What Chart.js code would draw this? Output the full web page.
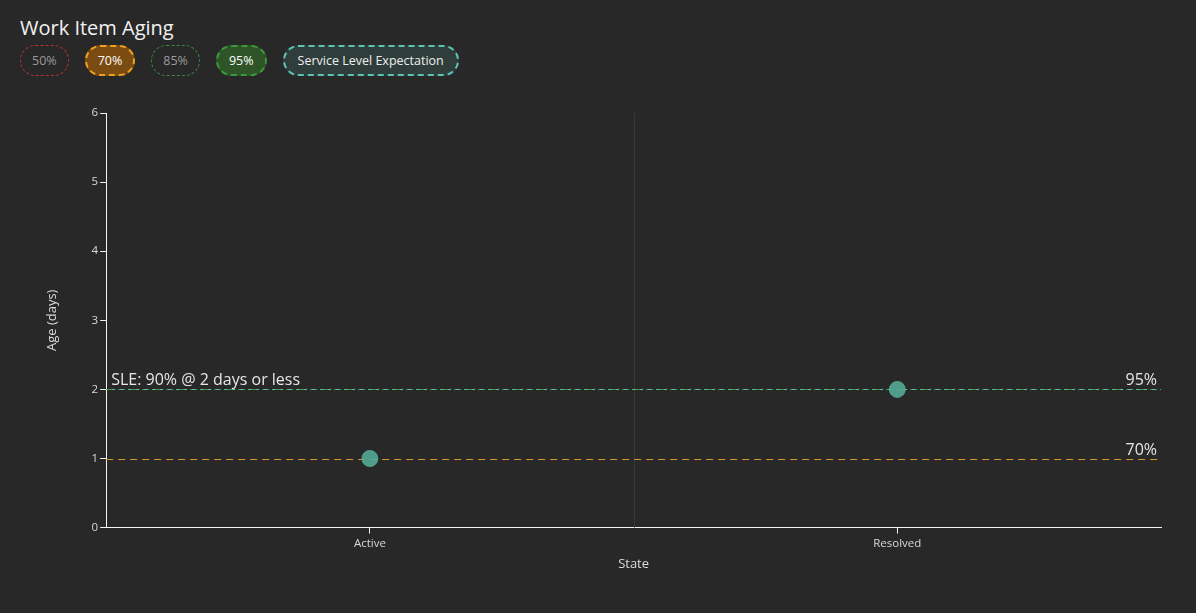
<!DOCTYPE html>
<html>
<head>
<meta charset="utf-8">
<script src="https://cdn.jsdelivr.net/npm/chart.js@4"></script>
<style>
    body { margin: 0; background: #282828; font-family: "Open Sans", "Noto Sans", sans-serif; }
    #wrap { position: relative; width: 1196px; height: 613px; overflow: hidden; }
    h3 { position: absolute; left: 20px; top: 14px; margin: 0; font-weight: 400; font-size: 20px; color: #f2f2f2; }
    .chips { position: absolute; left: 20px; top: 45px; display: flex; gap: 16px; }
    .chip { height: 31px; box-sizing: border-box; border-radius: 16px; padding: 0 11px; display: flex; align-items: center; font-size: 12.5px; color: #9a9a9a; }
    #chart { position: absolute; left: 0; top: 0; }
</style>
</head>
<body>
<div id="wrap">
    <h3>Work Item Aging</h3>
    <div class="chips">
        <div class="chip" style="border: 1px dashed #b83232">50%</div>
        <div class="chip" style="border: 2px dashed #f0a020; background: #7b4c12; color: #fff">70%</div>
        <div class="chip" style="border: 1px dashed #3c8a3c">85%</div>
        <div class="chip" style="border: 2px dashed #3a9a3a; background: #2e5428; color: #fff">95%</div>
        <div class="chip" style="border: 2px dashed #5cc4b4; background: #303e3b; color: #eee; padding: 0 13px">Service Level Expectation</div>
    </div>
    <canvas id="chart" width="1196" height="613"></canvas>
</div>
<script>
// data
const states = ["Active", "Resolved"]
const ages = [1, 2]
const percentileLabels = ["70%", "95%"]
const percentileValues = [1, 2]
const percentileColors = ["#d8962e", "#3f9f3f"]
const sleDays = 2
const sleText = "SLE: 90% @ 2 days or less"
const yTicks = [0, 1, 2, 3, 4, 5, 6]

// horizontal percentile / SLE lines, drawn under the points
const linesPlugin = {
    id: "lines",
    beforeDatasetsDraw(chart) {
        const ctx = chart.ctx
        const area = chart.chartArea
        const x = chart.scales.x
        const y = chart.scales.y

        // divider between categories
        let mid = (x.getPixelForValue(0) + x.getPixelForValue(1)) / 2
        ctx.save()
        ctx.strokeStyle = "#383838"
        ctx.lineWidth = 1
        ctx.beginPath()
        ctx.moveTo(Math.round(mid) + 0.5, area.top)
        ctx.lineTo(Math.round(mid) + 0.5, area.bottom)
        ctx.stroke()

        ctx.font = "16px 'Open Sans', 'Noto Sans', sans-serif"
        ctx.textBaseline = "bottom"
        for (let i = 0; i < percentileValues.length; i++) {
            let py = Math.round(y.getPixelForValue(percentileValues[i])) + 0.5
            ctx.strokeStyle = percentileColors[i]
            ctx.setLineDash([7, 5])
            ctx.beginPath()
            ctx.moveTo(area.left, py)
            ctx.lineTo(area.right, py)
            ctx.stroke()
            ctx.fillStyle = "#e6e6e6"
            ctx.textAlign = "right"
            ctx.fillText(percentileLabels[i], area.right - 4, py - 1)
        }

        let sy = Math.round(y.getPixelForValue(sleDays)) + 0.5
        ctx.strokeStyle = "#5cc4b4"
        ctx.setLineDash([3, 5])
        ctx.lineDashOffset = 2
        ctx.beginPath()
        ctx.moveTo(area.left, sy)
        ctx.lineTo(area.right, sy)
        ctx.stroke()
        ctx.setLineDash([])
        ctx.fillStyle = "#e6e6e6"
        ctx.textAlign = "left"
        ctx.fillText(sleText, area.left + 5, sy - 1)
        ctx.restore()
    }
}

window.addEventListener("load", () => {
    Chart.defaults.font.family = "'Open Sans', 'Noto Sans', sans-serif"
    new Chart(document.getElementById("chart"), {
        type: "scatter",
        data: {
            labels: states,
            datasets: [{
                data: ages,
                backgroundColor: "rgba(84, 168, 150, 0.9)",
                borderColor: "rgba(84, 168, 150, 0.9)",
                pointRadius: 8,
                pointHoverRadius: 8
            }]
        },
        plugins: [linesPlugin],
        options: {
            responsive: false,
            animation: false,
            layout: { padding: { top: 113, left: 40, right: 35, bottom: 37 } },
            plugins: { legend: { display: false }, tooltip: { enabled: false } },
            scales: {
                x: {
                    type: "category",
                    offset: true,
                    border: { color: "#f4f4f4", width: 1 },
                    grid: { drawOnChartArea: false, tickColor: "#f4f4f4", tickLength: 6 },
                    ticks: { color: "#d8d8d8", font: { size: 11.5 }, padding: 3 },
                    title: { display: true, text: "State", color: "#dcdcdc", font: { size: 13 }, padding: { top: 3 } }
                },
                y: {
                    min: 0,
                    max: 6,
                    afterBuildTicks: (axis) => { axis.ticks = yTicks.map(v => ({ value: v })) },
                    border: { color: "#f4f4f4", width: 1 },
                    grid: { drawOnChartArea: false, tickColor: "#f4f4f4", tickLength: 6 },
                    ticks: { color: "#d8d8d8", font: { size: 11.5 }, padding: 2 },
                    title: { display: true, text: "Age (days)", color: "#dcdcdc", font: { size: 13 }, padding: { bottom: 30 } }
                }
            }
        }
    })
})
</script>
</body>
</html>
